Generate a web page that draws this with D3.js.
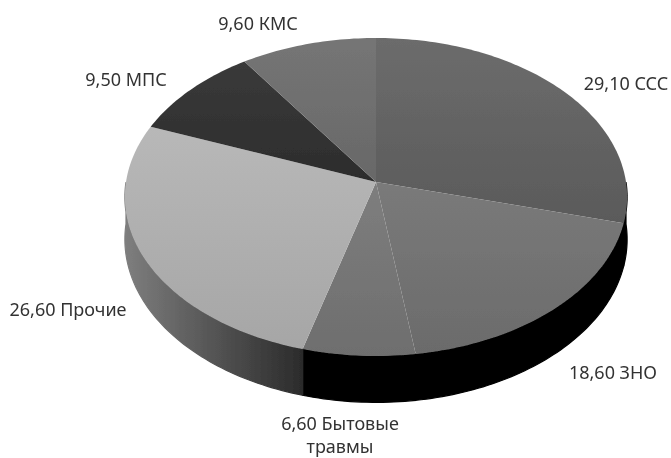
<!DOCTYPE html>
<html>
<head>
<meta charset="utf-8">
<script src="https://cdn.jsdelivr.net/npm/d3@7"></script>
<style>
html,body{margin:0;padding:0;background:#fff;overflow:hidden;}
text{font-family:"Noto Sans",sans-serif;font-size:18px;fill:#333;}
</style>
</head>
<body>
<div id="chart"></div>
<script>
var categories = ["ССС","ЗНО","Бытовые травмы","Прочие","МПС","КМС"];
var values = [29.1,18.6,6.6,26.6,9.5,9.6];

var topColors = [["#6c6c6c","#5a5a5a"],["#7a7a7a","#6b6b6b"],["#7e7e7e","#6e6e6e"],["#b8b8b8","#a6a6a6"],["#3a3a3a","#2c2c2c"],["#757575","#686868"]];
var labelLines = [["29,10 ССС"],["18,60 ЗНО"],["6,60 Бытовые","травмы"],["26,60 Прочие"],["9,50 МПС"],["9,60 КМС"]];
var labelX = [626,613,340,68,126,258];
var labelY = [84,373,424,310,80,24];

var width = 671, height = 458;
var cx = 376, cy = 182, a = 250, b = 157.6, k = 0.0943, depth = 42;

// circle -> perspective ellipse
function proj(ang, z){
    var X = Math.sin(ang), Y = -Math.cos(ang), w = 1 - k*Y;
    return [cx + a*X/w, cy + (b*Y + z)/w];
}

var svg = d3.select("#chart").append("svg").attr("width",width).attr("height",height);
var defs = svg.append("defs");

defs.append("filter").attr("id","soft").append("feGaussianBlur").attr("stdDeviation",0.6);
defs.append("filter").attr("id","softText").append("feGaussianBlur").attr("stdDeviation",0.35);

topColors.forEach(function(c,i){
    var g = defs.append("linearGradient").attr("id","top"+i).attr("x1",0).attr("y1",0).attr("x2",0).attr("y2",1);
    g.append("stop").attr("offset","0%").attr("stop-color",c[0]);
    g.append("stop").attr("offset","100%").attr("stop-color",c[1]);
});

var sideGrad = defs.append("linearGradient").attr("id","side").attr("gradientUnits","userSpaceOnUse")
    .attr("x1",125).attr("x2",305).attr("y1",0).attr("y2",0);
sideGrad.append("stop").attr("offset","0%").attr("stop-color","#7e7e7e");
sideGrad.append("stop").attr("offset","45%").attr("stop-color","#585858");
sideGrad.append("stop").attr("offset","100%").attr("stop-color","#2a2a2a");

var pie = d3.pie().sort(null).startAngle(0).endAngle(2*Math.PI)(values);
var line = d3.line();

function arcPts(s,e,z){
    var n = Math.max(2,Math.ceil((e-s)/0.02));
    return d3.range(n+1).map(function(i){ return proj(s+(e-s)*i/n,z); });
}

var g = svg.append("g").attr("filter","url(#soft)");

// side wall, only the part of the rim facing us
var sideFill = ["#000","#000","#000","url(#side)","#444","#444"];
pie.forEach(function(d,i){
    var s = Math.max(d.startAngle,Math.PI/2), e = Math.min(d.endAngle,Math.PI*1.5);
    if(e<=s) return;
    var pts = arcPts(s,e,0).concat(arcPts(s,e,depth).reverse());
    g.append("path").attr("d",line(pts)+"Z").attr("fill",sideFill[i]).attr("stroke",sideFill[i]).attr("stroke-width",1.2);
});

// top face
g.selectAll(".slice").data(pie).enter().append("path")
    .attr("class","slice")
    .attr("d",function(d){
        return line([[cx,cy]].concat(arcPts(d.startAngle,d.endAngle,0)))+"Z";
    })
    .attr("fill",function(d,i){ return "url(#top"+i+")"; });

// labels
labelLines.forEach(function(l,i){
    var t = svg.append("text").attr("x",labelX[i]).attr("y",labelY[i]+6).attr("text-anchor","middle").attr("filter","url(#softText)");
    l.forEach(function(s,j){
        t.append("tspan").attr("x",labelX[i]).attr("dy",j==0?0:23).text(s);
    });
});
</script>
</body>
</html>
